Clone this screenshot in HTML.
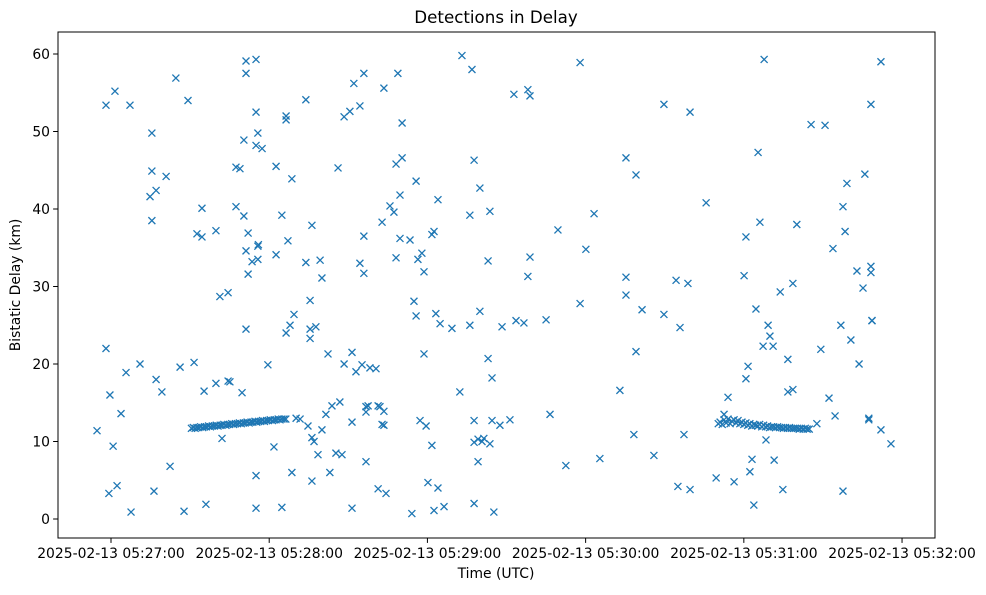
<!DOCTYPE html>
<html><head><meta charset="utf-8"><title>Detections in Delay</title>
<style>
html,body{margin:0;padding:0;background:#fff;}
svg text{font-family:"DejaVu Sans","Liberation Sans",sans-serif;fill:#000;}
</style></head>
<body>
<svg id="chart" width="986" height="590" viewBox="0 0 986 590" xmlns="http://www.w3.org/2000/svg">
<rect x="0" y="0" width="986" height="590" fill="#fff"/>
<text x="496" y="23" text-anchor="middle" font-size="16.7">Detections in Delay</text>
<g id="marks"></g>
<rect x="58" y="32" width="877" height="506" fill="none" stroke="#000" stroke-width="1"/>
<g id="xticks"></g>
<g id="yticks"></g>
<text x="496" y="578" text-anchor="middle" font-size="13.9">Time (UTC)</text>
<text x="20" y="285" text-anchor="middle" font-size="13.9" transform="rotate(-90 20 285)">Bistatic Delay (km)</text>
</svg>
<script>
// times: seconds after 2025-02-13 05:27:00 ; delays: km
const times = [
-5.3,-1.9,-1.9,-0.4,-0.8,0.8,1.5,2.3,3.8,5.7,7.2,7.6,11.0,14.8,15.5,15.5,15.5,16.3,17.1,17.1,19.3,20.9,22.4,24.6,26.2,27.7,29.2,31.5,32.6,34.5,34.5,35.3,36.0,39.8,39.8,41.3,42.1,44.4,45.1,44.4,47.4,47.4,48.9,49.7,50.4,50.4,51.2,51.2,51.2,52.0,52.0,51.2,53.5,55.0,55.0,55.0,55.7,55.0,55.0,55.7,55.9,55.7,57.3,59.5,61.8,62.6,62.6,64.8,64.8,66.4,66.4,66.4,67.1,67.9,68.6,68.6,69.4,70.2,71.7,
73.9,73.9,74.7,75.5,75.5,76.2,75.5,76.2,76.2,77.0,77.7,78.5,79.3,80.0,80.0,81.5,82.3,83.0,83.8,85.3,86.1,86.8,87.6,88.4,88.4,90.6,91.4,91.4,91.4,92.1,92.9,94.4,94.4,95.2,95.9,95.9,95.9,96.7,96.7,96.7,97.5,98.2,100.5,101.3,101.3,102.0,102.8,102.8,103.5,103.5,103.5,104.3,105.8,107.3,108.1,108.1,108.8,109.6,109.6,110.4,110.4,113.4,114.1,114.9,115.7,115.7,116.4,117.2,117.9,118.7,118.7,119.5,120.2,121.7,121.7,122.5,122.5,123.2,124.0,124.0,124.8,126.3,129.3,132.3,133.1,136.1,136.1,136.9,137.7,137.7,137.7,137.7,139.2,139.2,139.9,139.9,140.7,141.4,143.0,143.0,143.7,143.7,144.5,144.5,145.2,147.5,148.3,151.3,152.8,153.6,156.6,158.1,158.9,158.1,158.9,165.0,166.5,169.5,172.5,177.9,177.9,180.1,183.2,185.4,193.0,195.3,195.3,195.3,198.3,199.1,199.1,201.4,205.9,209.7,209.7,214.3,215.8,215.0,217.3,218.8,219.6,219.6,225.7,229.5,232.5,
247.7,292.0,288.2,265.5,270.8,245.4,285.9,279.1,277.6,246.1,260.1,240.8,278.4,273.8,240.1,282.9,288.2,288.2,285.2,258.6,253.8,244.6,249.2,276.8,288.6,288.6,249.9,247.3,251.1,269.2,280.6,256.7,283.7,241.6,240.8,256.7,258.6,234.0,272.3,274.6,267.7,287.4,287.4,292.0,295.8,248.4,243.1,251.5,242.3,236.3,254.8,277.6,243.8,
30.5,31.2,31.9,32.6,33.3,34.0,34.8,35.5,36.2,37.0,37.7,38.4,39.2,39.9,40.6,41.4,42.1,42.8,43.6,44.3,45.0,45.8,46.5,47.2,48.0,48.7,49.4,50.2,50.9,51.6,52.4,53.1,53.8,54.6,55.3,56.0,56.8,57.5,58.2,59.0,59.7,60.4,61.2,61.9,62.6,63.4,64.1,64.8,65.6,66.3,
230.3,231.0,231.8,232.5,233.3,234.0,234.8,235.5,236.3,237.0,237.8,238.5,239.3,240.0,240.8,241.5,242.3,243.0,243.8,244.5,245.3,246.0,246.8,247.5,248.3,249.0,249.8,250.5,251.3,252.0,252.8,253.5,254.3,255.0,255.8,256.5,257.3,258.0,258.8,259.5,260.3,261.0,261.8,262.5,263.3,264.0,264.8
];
const delays = [
11.4,53.4,22.0,16.0,3.3,9.4,55.2,4.3,13.6,18.9,53.4,0.9,20.0,41.6,49.8,44.9,38.5,3.6,18.0,42.4,16.4,44.2,6.8,56.9,19.6,1.0,54.0,20.2,36.8,40.1,36.4,16.5,1.9,37.2,17.5,28.7,10.4,17.8,17.7,29.2,40.3,45.4,45.2,16.3,48.9,39.1,59.1,57.5,34.6,31.6,36.9,24.5,33.2,59.3,52.5,48.2,49.8,5.6,1.4,35.2,35.4,33.5,47.8,19.9,9.3,45.5,34.1,39.2,1.5,52.0,51.5,24.0,35.9,25.0,43.9,6.0,26.4,13.0,12.9,
54.1,33.1,12.0,28.2,24.5,37.9,23.3,10.5,4.9,10.0,24.8,8.3,33.4,31.1,11.5,13.5,21.3,6.0,14.6,8.5,45.3,15.1,8.3,20.0,51.9,52.6,21.5,12.5,1.4,56.2,19.0,53.3,33.0,19.9,57.5,31.7,36.5,14.5,13.8,7.4,14.6,19.5,19.4,3.9,14.6,14.5,38.3,12.2,13.9,55.6,12.1,3.3,40.4,39.6,45.8,33.7,57.5,36.2,41.8,51.1,46.6,36.0,0.7,28.1,26.2,43.6,33.5,12.7,34.3,31.9,21.3,12.0,4.7,9.5,36.7,37.1,1.1,26.5,4.0,41.2,25.2,1.6,24.6,16.4,59.8,25.0,39.2,58.0,46.3,12.7,2.0,9.9,10.3,7.4,42.7,26.8,10.0,10.4,20.7,33.3,39.7,9.7,18.2,12.7,0.9,12.1,24.8,12.8,54.8,25.6,25.3,55.4,54.6,31.3,33.8,25.7,13.5,37.3,6.9,58.9,27.8,34.8,39.4,7.8,16.6,46.6,28.9,31.2,10.9,21.6,44.4,27.0,8.2,53.5,26.4,30.8,24.7,4.2,10.9,30.4,52.5,3.8,40.8,5.3,13.5,
59.3,59.0,53.5,50.9,50.8,47.3,44.5,43.3,40.3,38.3,38.0,36.4,37.1,34.9,31.4,32.0,32.6,31.8,29.8,30.4,29.3,27.1,25.0,25.0,25.6,25.6,23.6,22.3,22.3,21.9,23.1,20.6,20.0,19.7,18.1,16.4,16.7,15.7,15.6,13.3,12.3,13.0,12.8,11.5,9.7,10.2,7.7,7.6,6.1,4.8,3.8,3.6,1.8,
11.7,11.8,11.7,11.8,11.8,11.9,11.8,11.9,11.9,12.0,11.9,12.0,12.0,12.1,12.0,12.1,12.1,12.2,12.1,12.2,12.2,12.3,12.2,12.3,12.3,12.4,12.3,12.4,12.4,12.5,12.4,12.5,12.5,12.6,12.5,12.6,12.6,12.7,12.6,12.7,12.7,12.8,12.7,12.8,12.8,12.9,12.8,12.9,12.9,12.9,
12.3,12.5,12.2,12.8,12.4,12.9,12.3,12.6,12.8,12.4,12.7,12.3,12.5,12.2,12.4,12.1,12.3,12.0,12.2,12.1,12.0,12.2,11.9,12.1,11.9,12.0,11.8,11.9,11.9,11.8,11.9,11.8,11.8,11.7,11.8,11.7,11.8,11.7,11.7,11.7,11.7,11.6,11.7,11.6,11.7,11.6,11.6
];
const xTickValues = [0, 60, 120, 180, 240, 300];
const xTickLabels = ["2025-02-13 05:27:00","2025-02-13 05:28:00","2025-02-13 05:29:00","2025-02-13 05:30:00","2025-02-13 05:31:00","2025-02-13 05:32:00"];
const yTickValues = [0, 10, 20, 30, 40, 50, 60];

const NS = "http://www.w3.org/2000/svg";
const X0 = 58, X1 = 935, Y0 = 32, Y1 = 538;
const xMin = -20.1, xMax = 312.5, yMin = -2.45, yMax = 62.84;
function xScale(t){ return X0 + (t - xMin) / (xMax - xMin) * (X1 - X0); }
function yScale(v){ return Y1 - (v - yMin) / (yMax - yMin) * (Y1 - Y0); }

const marks = document.getElementById('marks');
const n = Math.min(times.length, delays.length);
for (let i = 0; i < n; i++) {
  const cx = xScale(times[i]), cy = yScale(delays[i]), r = 3.5;
  const p = document.createElementNS(NS, 'path');
  p.setAttribute('d', `M${cx-r},${cy-r}L${cx+r},${cy+r}M${cx-r},${cy+r}L${cx+r},${cy-r}`);
  p.setAttribute('stroke', '#1f77b4');
  p.setAttribute('stroke-width', '1.3');
  p.setAttribute('fill', 'none');
  
  
  marks.appendChild(p);
}

const xg = document.getElementById('xticks');
xTickValues.forEach((t, i) => {
  const x = xScale(t);
  const l = document.createElementNS(NS, 'line');
  l.setAttribute('x1', x); l.setAttribute('x2', x);
  l.setAttribute('y1', Y1); l.setAttribute('y2', Y1 + 4.9);
  l.setAttribute('stroke', '#000');
  
  
  xg.appendChild(l);
  const tx = document.createElementNS(NS, 'text');
  tx.setAttribute('x', x); tx.setAttribute('y', Y1 + 20);
  tx.setAttribute('text-anchor', 'middle');
  tx.setAttribute('font-size', '13.9');
  tx.textContent = xTickLabels[i];
  
  
  xg.appendChild(tx);
});

const yg = document.getElementById('yticks');
yTickValues.forEach(v => {
  const y = yScale(v);
  const l = document.createElementNS(NS, 'line');
  l.setAttribute('x1', X0 - 4.9); l.setAttribute('x2', X0);
  l.setAttribute('y1', y); l.setAttribute('y2', y);
  l.setAttribute('stroke', '#000');
  
  
  yg.appendChild(l);
  const tx = document.createElementNS(NS, 'text');
  tx.setAttribute('x', X0 - 8); tx.setAttribute('y', y + 5);
  tx.setAttribute('text-anchor', 'end');
  tx.setAttribute('font-size', '13.9');
  tx.textContent = String(v);
  
  
  yg.appendChild(tx);
});
</script>
</body></html>
